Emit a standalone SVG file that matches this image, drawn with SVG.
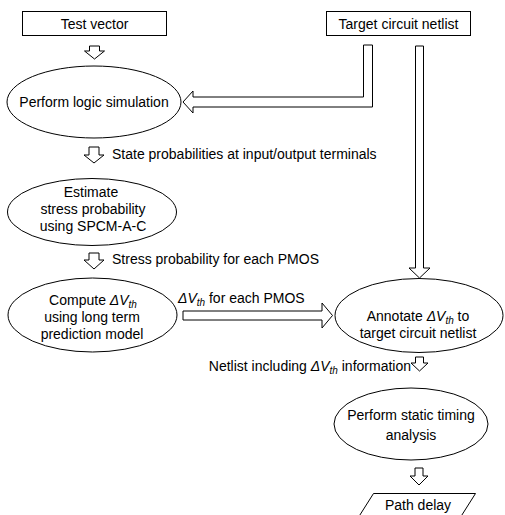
<svg xmlns="http://www.w3.org/2000/svg" width="505" height="515" viewBox="0 0 505 515">
<style>
.s{fill:#fff;stroke:#000;stroke-width:1}
.t{font-family:"Liberation Sans",Arial,sans-serif;font-size:14px;fill:#000}
.c{text-anchor:middle}
.i{font-style:italic}
.sub{font-style:italic;font-size:10px}
</style>
<rect width="505" height="515" fill="#fff"/>
<g id="connectors">
<path class="s" d="M89.5,46 H99.5 V51 H104.5 L94.5,59 L84.5,51 H89.5 Z"/>
<path class="s" d="M89,147 H99 V155 H104 L94,163 L84,155 H89 Z"/>
<path class="s" d="M89,253 H99 V260 H104 L94,269 L84,260 H89 Z"/>
<path class="s" d="M363.5,45 H372.5 V107 H193 V113 L183,102 L193,91 V97 H363.5 Z"/>
<path class="s" d="M415.5,46 H423.5 V268 H430 L419.5,278 L409,268 H415.5 Z"/>
<path class="s" d="M183,311 H322 V303 L332.5,315.5 L322,328 V320 H183 Z"/>
<path class="s" d="M415.5,357 H423.5 V363 H428 L419.5,371 L411,363 H415.5 Z"/>
<path class="s" d="M415,468 H423 V476 H428 L419,485 L410,476 H415 Z"/>
<text class="t" x="112" y="159">State probabilities at input/output terminals</text>
<text class="t" x="112" y="264">Stress probability for each PMOS</text>
<text class="t" x="178" y="303"><tspan class="i">ΔV</tspan><tspan class="sub" dy="3">th</tspan><tspan dy="-3"> for each PMOS</tspan></text>
<text class="t" x="411" y="371" text-anchor="end">Netlist including <tspan class="i">ΔV</tspan><tspan class="sub" dy="3">th</tspan><tspan dy="-3"> information</tspan></text>
</g>
<g id="test-vector">
<rect class="s" x="22.5" y="11.5" width="144" height="24"/>
<text class="t c" x="94.5" y="29">Test vector</text>
</g>
<g id="target-netlist">
<rect class="s" x="326.5" y="11.5" width="144" height="24"/>
<text class="t c" x="398.5" y="29">Target circuit netlist</text>
</g>
<g id="logic-sim">
<ellipse class="s" cx="94" cy="102" rx="87" ry="36"/>
<text class="t c" x="94" y="107">Perform logic simulation</text>
</g>
<g id="estimate">
<ellipse class="s" cx="92" cy="212" rx="84.5" ry="33.5"/>
<text class="t c" x="91" y="197">Estimate</text>
<text class="t c" x="93" y="214">stress probability</text>
<text class="t c" x="93" y="231">using SPCM-A-C</text>
</g>
<g id="compute">
<ellipse class="s" cx="92.5" cy="315" rx="84.5" ry="37"/>
<text class="t c" x="93" y="305">Compute <tspan class="i">ΔV</tspan><tspan class="sub" dy="3">th</tspan></text>
<text class="t c" x="92" y="322">using long term</text>
<text class="t c" x="92" y="338.5">prediction model</text>
</g>
<g id="annotate">
<ellipse class="s" cx="419" cy="315.5" rx="84" ry="37"/>
<text class="t c" x="418" y="321">Annotate <tspan class="i">ΔV</tspan><tspan class="sub" dy="3">th</tspan><tspan dy="-3"> to</tspan></text>
<text class="t c" x="418" y="338">target circuit netlist</text>
</g>
<g id="sta">
<ellipse class="s" cx="411" cy="424" rx="77" ry="36"/>
<text class="t c" x="411" y="420">Perform static timing</text>
<text class="t c" x="411" y="440">analysis</text>
</g>
<g id="path-delay">
<path class="s" d="M373.5,493.5 H475.5 L460,518 H358 Z"/>
<text class="t c" x="418" y="510">Path delay</text>
</g>
</svg>
